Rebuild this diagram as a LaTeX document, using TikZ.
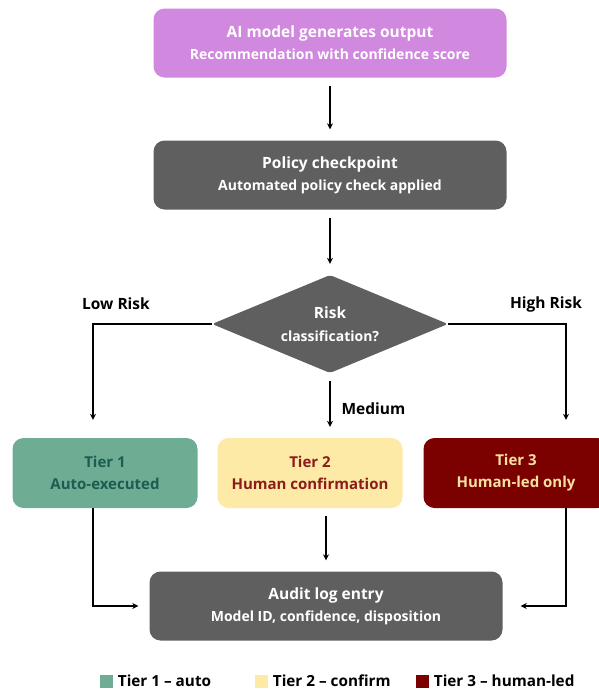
\documentclass[tikz,border=0pt]{standalone}
\usepackage{fontspec}
\setmainfont{Open Sans}
\usetikzlibrary{shapes.geometric,arrows.meta,positioning}

\definecolor{aipink}{HTML}{D188DF}
\definecolor{boxgray}{HTML}{5F5F5F}
\definecolor{autofill}{HTML}{6FAC94}
\definecolor{autotext}{HTML}{1B5E4F}
\definecolor{confirmfill}{HTML}{FDEAA6}
\definecolor{confirmtext}{HTML}{8E1B1B}
\definecolor{humanfill}{HTML}{7B0000}
\definecolor{humantext}{HTML}{F8E0A0}

\newcommand{\headline}[1]{{\fontsize{15.5}{22}\selectfont #1}}
\newcommand{\subline}[1]{{\fontsize{14}{22}\selectfont #1}}

\begin{document}
\begin{tikzpicture}[
		x=1pt, y=-1pt, font=\bfseries,
		box/.style={rounded corners=11pt, minimum width=353pt, minimum height=69pt, align=center, text=white, fill=boxgray, font=\bfseries\fontsize{14}{22}\selectfont},
		tier/.style={rounded corners=11pt, minimum width=185pt, minimum height=70pt, align=center, font=\bfseries\fontsize{15}{22}\selectfont},
		flow/.style={-{Stealth[length=6pt,width=6pt]}, line width=1.2pt, shorten <=8pt, shorten >=11pt},
		branch/.style={font=\bfseries\fontsize{15.5}{18}\selectfont},
		swatch/.style={minimum size=13pt, inner sep=0pt},
		key/.style={font=\bfseries\fontsize{15.3}{18}\selectfont, inner sep=0pt, right=5pt of #1}
	]
	\useasboundingbox (0,0) rectangle (598,691);

	\node[box, fill=aipink] (model) at (330,43)
		{\headline{AI model generates output} \\ \subline{Recommendation with confidence score}};
	\node[box] (policy) at (330,175)
		{\headline{Policy checkpoint} \\ \subline{Automated policy check applied}};
	\node[diamond, fill=boxgray, rounded corners=3pt, minimum width=236pt, minimum height=98pt, inner sep=0pt] (risk) at (330,324) {};
	\node[text=white, align=center, font=\bfseries\fontsize{14}{23}\selectfont] (risktext) at (risk.center)
		{\headline{Risk} \\ \subline{classification?}};

	\node[tier, fill=autofill, text=autotext] (tier1) at (105,473) {Tier 1 \\ Auto-executed};
	\node[tier, fill=confirmfill, text=confirmtext] (tier2) at (310,473) {Tier 2 \\ Human confirmation};
	\node[tier, fill=humanfill, text=humantext] (tier3) at (516,473) {Tier 3 \\ Human-led only};

	\node[box] (audit) at (326,606)
		{\headline{Audit log entry} \\ \subline{Model ID, confidence, disposition}};

	% branch labels
	\node[branch] (lowlbl) at (116,304) {Low Risk};
	\node[branch] (highlbl) at (546,304) {High Risk};
	\node[branch, anchor=west] (medlbl) at (338,409) {Medium};

	% connectors
	\draw[flow] (model) -- (policy);
	\draw[flow] (policy) -- (risk);
	\draw[flow, shorten <=0pt, shorten >=18pt] (risk.west) -| ([xshift=-12pt]tier1.north);
	\draw[flow, shorten <=0pt, shorten >=18pt] (risk.east) -| ([xshift=50pt]tier3.north);
	\draw[flow] (risk.south) -- (risk.south |- tier2.north);
	\draw[flow] (tier2.south -| audit.north) -- (audit.north);
	\draw[flow, shorten <=0pt] ([xshift=-12pt]tier1.south) |- (audit.west);
	\draw[flow, shorten <=0pt, shorten >=18pt] ([xshift=50pt]tier3.south) |- (audit.east);

	% legend
	\node[swatch, fill=autofill] (sw1) at (106,681) {};
	\node[key=sw1] (key1) {Tier 1 -- auto};
	\node[swatch, fill=confirmfill] (sw2) at (261,681) {};
	\node[key=sw2] (key2) {Tier 2 -- confirm};
	\node[swatch, fill=humanfill] (sw3) at (422,681) {};
	\node[key=sw3] (key3) {Tier 3 -- human-led};
\end{tikzpicture}
\end{document}
